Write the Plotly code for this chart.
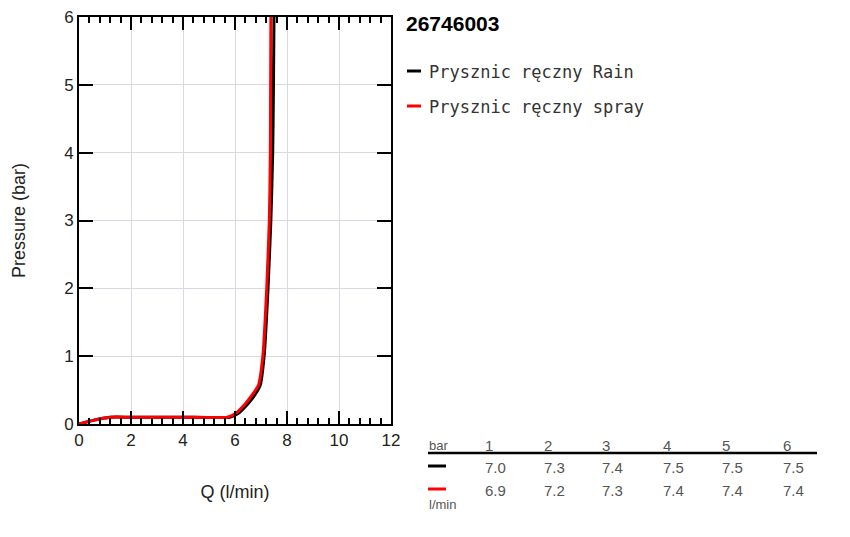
import plotly.graph_objects as go

# flow curves (Q in l/min, pressure in bar)
rain_q = [0, 0.5, 1.2, 2, 4, 5.8, 6.1, 6.5, 6.8, 6.97, 7.12, 7.27, 7.38, 7.45, 7.48, 7.5]
rain_p = [0, 0.05, 0.1, 0.1, 0.1, 0.1, 0.15, 0.3, 0.45, 0.57, 1.0, 2.0, 3.0, 4.0, 5.0, 6.0]
spray_q = [0, 0.5, 1.2, 2, 4, 5.7, 6.0, 6.4, 6.7, 6.9, 7.07, 7.22, 7.32, 7.36, 7.37, 7.38]
spray_p = [0, 0.05, 0.1, 0.1, 0.1, 0.1, 0.15, 0.3, 0.45, 0.57, 1.0, 2.0, 3.0, 4.0, 5.0, 6.0]

series_names = ["Prysznic ręczny Rain", "Prysznic ręczny spray"]
series_colors = ["#000000", "#ff0000"]
chart_title = "26746003"

# table under the legend
table_bar = [1, 2, 3, 4, 5, 6]
table_rain = ["7.0", "7.3", "7.4", "7.5", "7.5", "7.5"]
table_spray = ["6.9", "7.2", "7.3", "7.4", "7.4", "7.4"]

W, H = 850, 537
L, R, T, B = 79, 391, 17, 424
OFF = 8  # page body margin


def px(x):
    return (x - L) / (R - L)


def py(y):
    return (B - y) / (B - T)


fig = go.Figure()
for q, p, name, col in [(rain_q, rain_p, series_names[0], series_colors[0]),
                        (spray_q, spray_p, series_names[1], series_colors[1])]:
    fig.add_trace(go.Scatter(x=q, y=p, mode="lines", name=name,
                             line=dict(color=col, width=3, shape="spline", smoothing=0.5),
                             showlegend=False))

ann = []
shapes = []
# legend block
ann.append(dict(x=px(404), y=py(23), xref="paper", yref="paper", text="<b>%s</b>" % chart_title,
                showarrow=False, xanchor="left", yanchor="middle",
                font=dict(family="Liberation Sans, Arial", size=21, color="#000")))
for i, (name, col) in enumerate(zip(series_names, series_colors)):
    yy = 71 + 35 * i
    shapes.append(dict(type="line", xref="paper", yref="paper", x0=px(407), x1=px(421),
                       y0=py(yy), y1=py(yy), line=dict(color=col, width=3)))
    ann.append(dict(x=px(427), y=py(yy + 1), xref="paper", yref="paper", text=name,
                    showarrow=False, xanchor="left", yanchor="middle",
                    font=dict(family="DejaVu Sans Mono, monospace", size=17, color="#333")))

# table
tfont = dict(family="Liberation Sans, Arial", size=15, color="#555")
col_x = [483, 542, 600, 661, 720, 781]
ann.append(dict(x=px(427), y=py(445), xref="paper", yref="paper", text="bar", showarrow=False,
                xanchor="left", yanchor="middle", font=dict(family="Liberation Sans, Arial", size=13, color="#555")))
for cx, b, r, s in zip(col_x, table_bar, table_rain, table_spray):
    for yy, t in [(445, str(b)), (467, r), (490, s)]:
        ann.append(dict(x=px(cx), y=py(yy), xref="paper", yref="paper", text=t, showarrow=False,
                        xanchor="left", yanchor="middle", font=tfont))
ann.append(dict(x=px(427), y=py(504), xref="paper", yref="paper", text="l/min", showarrow=False,
                xanchor="left", yanchor="middle", font=dict(family="Liberation Sans, Arial", size=13, color="#555")))
shapes.append(dict(type="line", xref="paper", yref="paper", x0=px(428), x1=px(817),
                   y0=py(453), y1=py(453), line=dict(color="#000", width=2.5)))
for yy, col in [(466, series_colors[0]), (489, series_colors[1])]:
    shapes.append(dict(type="line", xref="paper", yref="paper", x0=px(428), x1=px(446),
                       y0=py(yy), y1=py(yy), line=dict(color=col, width=3)))

axfont = dict(family="Liberation Sans, Arial", size=17, color="#222")
titlefont = dict(family="Liberation Sans, Arial", size=18, color="#222")
fig.update_layout(
    width=W - OFF, height=H - OFF,
    margin=dict(l=L - OFF, r=W - R, t=T - OFF, b=H - B, autoexpand=False),
    paper_bgcolor="white", plot_bgcolor="white",
    annotations=ann, shapes=shapes,
    xaxis=dict(range=[0, 12], dtick=2, tick0=0, showgrid=True, gridcolor="#d9d9e3", gridwidth=1,
               showline=True, linecolor="#000", linewidth=2, mirror="ticks",
               ticks="inside", ticklen=13, tickwidth=2, tickcolor="#000",
               minor=dict(dtick=0.4, tick0=0, ticks="inside", ticklen=6, tickwidth=2, tickcolor="#000", showgrid=False),
               zeroline=False, tickfont=axfont, automargin=False, ticklabeloverflow="allow",
               title=dict(text="Q (l/min)", font=titlefont, standoff=36)),
    yaxis=dict(range=[0, 6], dtick=1, tick0=0, showgrid=True, gridcolor="#d9d9e3", gridwidth=1,
               showline=True, linecolor="#000", linewidth=2, mirror="ticks",
               ticks="inside", ticklen=14, tickwidth=2, tickcolor="#000",
               zeroline=False, tickfont=axfont, automargin=False, ticklabeloverflow="allow",
               title=dict(text="Pressure (bar)", font=titlefont, standoff=34)),
)

fig.write_html("out.html")
